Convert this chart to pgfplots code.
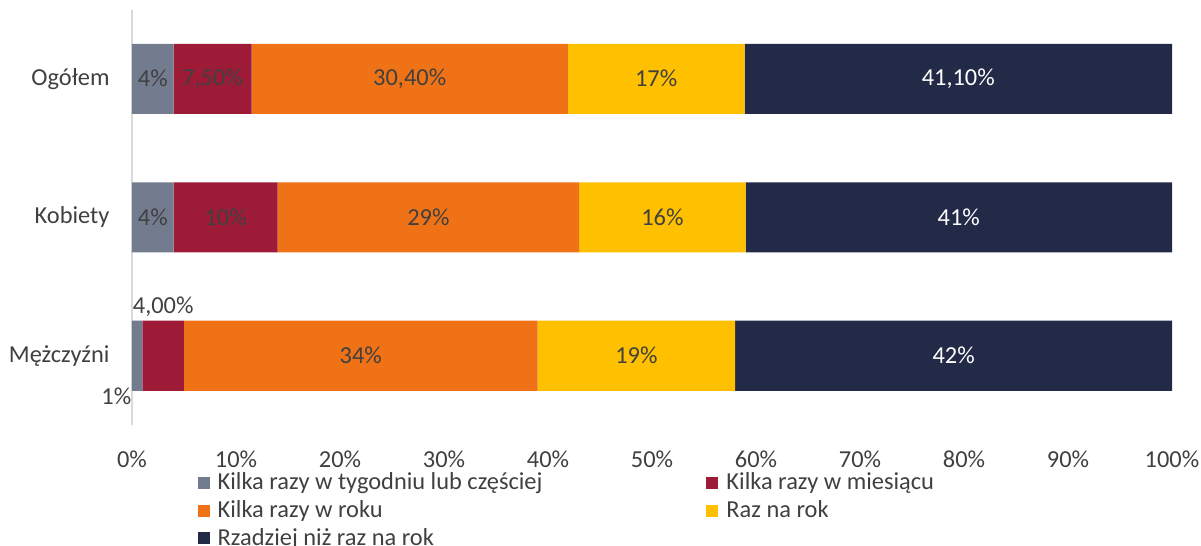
\documentclass[border=0pt]{standalone}
\usepackage{pgfplots}
\pgfplotsset{compat=1.18}
\usepackage{fontspec}
\setmainfont{Carlito}
\definecolor{cgrey}{HTML}{737B8E}
\definecolor{cred}{HTML}{9E1B38}
\definecolor{corange}{HTML}{EF7217}
\definecolor{cyellow}{HTML}{FFC000}
\definecolor{cnavy}{HTML}{222A48}
\definecolor{ctext}{HTML}{404040}
\definecolor{caxis}{HTML}{D9D9D9}
\newcommand{\fnt}{\fontsize{12.2}{14}\selectfont}
\newcommand{\lowlabel}{\smash{\raisebox{-24.5pt}{\llap{1\%\hspace{3pt}}}}}
\newcommand{\highlabel}{\smash{\raisebox{21pt}{4,00\%}}}
\pgfplotsset{
  base/.style={at={(0,0)}, anchor=south west, scale only axis,
    width=520pt, height=207.75pt, xmin=0, xmax=100, ymin=-0.5, ymax=2.5, clip=false},
  lbl/.style={only marks, mark=*, mark size=0pt, mark options={draw=none, fill=none},
    point meta=explicit symbolic, nodes near coords,
    every node near coord/.append style={anchor=center, font=\fnt, text=#1}},
}
\begin{document}
\fnt
\begin{tikzpicture}
\begin{axis}[
  base,
  xbar stacked,
  bar width=35pt,
  ytick={0,1,2},
  yticklabels={Mężczyźni,Kobiety,Ogółem},
  xtick={0,10,...,100},
  xticklabel={\pgfmathprintnumber[assume math mode=true]{\tick}\%},
  tick label style={font=\fnt, text=ctext},
  xticklabel style={yshift=-8.5pt},
  yticklabel style={xshift=-7pt},
  axis x line*=bottom, axis y line*=left,
  x axis line style={draw=none},
  y axis line style={draw=caxis, line width=1pt, -},
  major tick length=0pt,
  tick style={draw=none},
  legend columns=2,
  legend cell align=left,
  legend image code/.code={\fill[#1] (0pt,-3pt) rectangle (6pt,3pt); \path (8pt,0pt);},
  legend style={at={(0.057,-0.095)}, anchor=north west, draw=none, fill=none,
    font=\fnt, text=ctext, row sep=-0.5pt,
    /tikz/every even column/.append style={column sep=80pt}},
]
\addplot[fill=cgrey, draw=none] coordinates {(1,0) (4,1) (4,2)};
\addplot[fill=cred, draw=none] coordinates {(4,0) (10,1) (7.5,2)};
\addplot[fill=corange, draw=none] coordinates {(34,0) (29,1) (30.4,2)};
\addplot[fill=cyellow, draw=none] coordinates {(19,0) (16,1) (17,2)};
\addplot[fill=cnavy, draw=none] coordinates {(42,0) (41,1) (41.1,2)};
\legend{Kilka razy w tygodniu lub częściej, Kilka razy w miesiącu, Kilka razy w roku, Raz na rok, Rzadziej niż raz na rok}
\end{axis}
\begin{axis}[base, hide axis]
\addplot[lbl=ctext] coordinates {
  (0.5,0)[\lowlabel] (3,0)[\highlabel] (22,0)[34\%] (48.5,0)[19\%]
  (2,1)[4\%] (9,1)[10\%] (28.5,1)[29\%] (51,1)[16\%]
  (2,2)[4\%] (7.75,2)[{7,50\%}] (26.7,2)[{30,40\%}] (50.4,2)[17\%]};
\addplot[lbl=white] coordinates {(79,0)[42\%] (79.5,1)[41\%] (79.45,2)[{41,10\%}]};
\end{axis}
\pgfresetboundingbox
\path (-66pt,-60.5pt) rectangle (534.5pt,212.5pt);
\end{tikzpicture}
\end{document}
